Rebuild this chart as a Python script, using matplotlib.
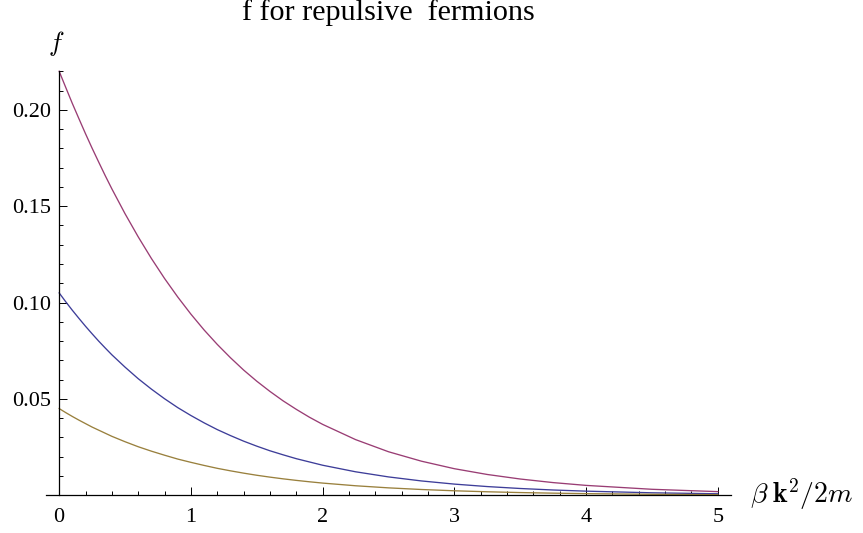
import matplotlib
matplotlib.use("Agg")
import matplotlib.pyplot as plt
from matplotlib.ticker import FixedLocator

plt.rcParams['mathtext.fontset'] = 'cm'
plt.rcParams['font.family'] = ['Liberation Serif', 'DejaVu Serif']

# values
x_vals = [0.0, 0.05, 0.1, 0.15, 0.2, 0.25, 0.3, 0.35, 0.4, 0.5, 0.6, 0.7, 0.8, 0.9, 1.0,
          1.1, 1.2, 1.3, 1.4, 1.5, 1.6, 1.7, 1.8, 1.9, 2.0, 2.25, 2.5, 2.75, 3.0,
          3.25, 3.5, 3.75, 4.0, 4.5, 5.0]
f_purple = [0.2200, 0.2116, 0.2033, 0.1954, 0.1876, 0.1801, 0.1729, 0.1658, 0.1590,
            0.1461, 0.1341, 0.1229, 0.1125, 0.1029, 0.0940,
            0.0858, 0.0783, 0.0714, 0.0650, 0.0592, 0.0539, 0.0490, 0.0446, 0.0405,
            0.0368, 0.0289, 0.0226, 0.0177, 0.0138,
            0.0108, 0.00845, 0.00659, 0.00514, 0.00312, 0.00190]
f_blue = [0.1050, 0.1004, 0.0960, 0.0918, 0.0877, 0.0838, 0.0800, 0.0764, 0.0729,
          0.0665, 0.0605, 0.0551, 0.0501, 0.0455, 0.0414,
          0.0376, 0.0341, 0.0310, 0.0281, 0.0255, 0.0231, 0.0210, 0.0190, 0.0173,
          0.0156, 0.0122, 0.00954, 0.00745, 0.00581,
          0.00453, 0.00353, 0.00275, 0.00215, 0.00130, 0.00079]
f_gold = [0.0450, 0.0429, 0.0409, 0.0390, 0.0372, 0.0354, 0.0338, 0.0322, 0.0306,
          0.0278, 0.0252, 0.0229, 0.0208, 0.0188, 0.0171,
          0.0155, 0.0140, 0.0127, 0.0115, 0.0104, 0.00943, 0.00854, 0.00774, 0.00701,
          0.00634, 0.00495, 0.00386, 0.00301, 0.00234,
          0.00183, 0.00142, 0.00111, 0.00086, 0.00052, 0.00032]

x_ticks = [0, 1, 2, 3, 4, 5]
x_tick_labels = ["0", "1", "2", "3", "4", "5"]
y_ticks = [0.05, 0.10, 0.15, 0.20]
y_tick_labels = ["0.05", "0.10", "0.15", "0.20"]
title = "f for repulsive  fermions"

W, H = 863, 533
fig = plt.figure(figsize=(W / 100, H / 100), dpi=100)
ax = fig.add_axes([46 / W, (H - 495.3) / H, 685 / W, 424 / H])

ax.plot(x_vals, f_blue, color=(0.24, 0.24, 0.6), lw=0.95, clip_on=False)
ax.plot(x_vals, f_purple, color=(0.6, 0.24, 0.456), lw=0.95, clip_on=False)
ax.plot(x_vals, f_gold, color=(0.6, 0.5, 0.24), lw=0.95, clip_on=False)

ax.set_xlim(-0.1, 5.1)
ax.set_ylim(0, 0.22)

for s in ['top', 'right']:
    ax.spines[s].set_visible(False)
ax.spines['left'].set_position(('data', 0))
ax.spines['left'].set_bounds(0, 0.22)
ax.spines['bottom'].set_position(('data', 0))
for s in ['left', 'bottom']:
    ax.spines[s].set_linewidth(0.9)

ax.set_xticks(x_ticks)
ax.set_xticklabels(x_tick_labels)
ax.set_yticks(y_ticks)
ax.set_yticklabels(y_tick_labels)
ax.xaxis.set_minor_locator(FixedLocator([i * 0.2 for i in range(26) if i % 5 != 0]))
ax.yaxis.set_minor_locator(FixedLocator([i * 0.01 for i in range(1, 23) if i % 5 != 0]))

ax.tick_params(which='both', direction='in', labelsize=16, width=0.7)
ax.tick_params(which='major', length=5.8)
ax.tick_params(which='minor', length=3.2)
ax.tick_params(axis='x', which='major', pad=9)
ax.tick_params(axis='y', which='major', pad=5.5)

fig.text(388 / W, 1 - 20.5 / H, title, ha='center', va='baseline', fontsize=21.7)
fig.text(56 / W, 1 - 44 / H, r'$f$', ha='center', va='center', fontsize=19)
fig.text(750 / W, 1 - 494 / H, r'$\beta\;\mathbf{k}^2/2m$', ha='left', va='center', fontsize=20)

fig.savefig("out.png", dpi=100)
